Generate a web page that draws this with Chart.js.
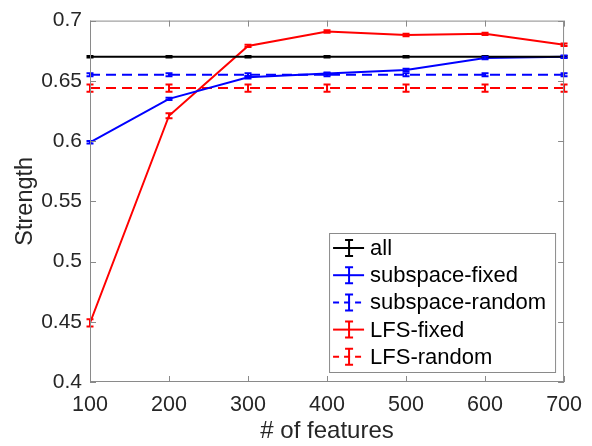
<!DOCTYPE html>
<html lang="en">
  <head>
    <meta charset="UTF-8" />
    <title>Strength vs features</title>
    <style>
      html, body { margin: 0; padding: 0; background: #fff; }
      #wrap { width: 592px; height: 446px; }
    </style>
  </head>
  <body>
    <div id="wrap"><canvas id="myChart" width="592" height="446"></canvas></div>
    <script src="https://cdn.jsdelivr.net/npm/chart.js"></script>
    <script>
      // number of features on the x axis
      const features = [100, 200, 300, 400, 500, 600, 700];

      const allStrength = [0.670, 0.670, 0.670, 0.670, 0.670, 0.670, 0.670];
      const allErr = [0.0006, 0.0006, 0.0006, 0.0006, 0.0006, 0.0006, 0.0006];

      const subFixed = [0.599, 0.635, 0.653, 0.656, 0.659, 0.669, 0.670];
      const subFixedErr = [0.001, 0.001, 0.001, 0.001, 0.001, 0.001, 0.001];

      const subRandom = [0.655, 0.655, 0.655, 0.655, 0.655, 0.655, 0.655];
      const subRandomErr = [0.0012, 0.0012, 0.0012, 0.0012, 0.0012, 0.0012, 0.0012];

      const lfsFixed = [0.449, 0.621, 0.679, 0.691, 0.688, 0.689, 0.680];
      const lfsFixedErr = [0.003, 0.002, 0.001, 0.001, 0.001, 0.001, 0.001];

      const lfsRandom = [0.644, 0.644, 0.644, 0.644, 0.644, 0.644, 0.644];
      const lfsRandomErr = [0.003, 0.003, 0.003, 0.003, 0.003, 0.003, 0.003];

      const yTicks = [0.4, 0.45, 0.5, 0.55, 0.6, 0.65, 0.7];

      const FONT = "Liberation Sans, Arial, Helvetica, sans-serif";
      const AXIS_COLOR = "#8a8a8a";
      const TEXT_COLOR = "#262626";
      const DASH = [10, 6];

      function serie(label, values, errs, color, dashed) {
        return {
          label: label,
          data: features.map((x, i) => ({ x: x, y: values[i] })),
          errors: errs,
          borderColor: color,
          backgroundColor: color,
          borderWidth: 2,
          borderDash: dashed ? DASH : [],
          pointRadius: 0,
          tension: 0,
          fill: false,
          dashed: dashed,
        };
      }

      const datasets = [
        serie("all", allStrength, allErr, "#000000", false),
        serie("subspace-fixed", subFixed, subFixedErr, "#0000ff", false),
        serie("subspace-random", subRandom, subRandomErr, "#0000ff", true),
        serie("LFS-fixed", lfsFixed, lfsFixedErr, "#ff0000", false),
        serie("LFS-random", lfsRandom, lfsRandomErr, "#ff0000", true),
      ];

      // error bars with caps
      const errorBars = {
        id: "errorBars",
        afterDatasetsDraw(chart) {
          const ctx = chart.ctx;
          const xs = chart.scales.x, ys = chart.scales.y;
          ctx.save();
          chart.data.datasets.forEach((ds) => {
            ctx.strokeStyle = ds.borderColor;
            ctx.lineWidth = 2;
            ctx.setLineDash([]);
            ds.data.forEach((p, i) => {
              const e = ds.errors[i];
              const px = xs.getPixelForValue(p.x);
              const top = ys.getPixelForValue(p.y + e);
              const bot = ys.getPixelForValue(p.y - e);
              ctx.beginPath();
              ctx.moveTo(px, top); ctx.lineTo(px, bot);
              ctx.moveTo(px - 3.5, top); ctx.lineTo(px + 3.5, top);
              ctx.moveTo(px - 3.5, bot); ctx.lineTo(px + 3.5, bot);
              ctx.stroke();
            });
          });
          ctx.restore();
        },
      };

      // box around the axes with inward ticks on all sides
      const boxTicks = {
        id: "boxTicks",
        afterDraw(chart) {
          const ctx = chart.ctx;
          const a = chart.chartArea;
          const xs = chart.scales.x, ys = chart.scales.y;
          ctx.save();
          ctx.strokeStyle = AXIS_COLOR;
          ctx.lineWidth = 1;
          ctx.strokeRect(a.left + 0.5, a.top + 0.5, a.right - a.left - 1, a.bottom - a.top - 1);
          ctx.beginPath();
          features.forEach((v) => {
            const px = Math.round(xs.getPixelForValue(v)) + 0.5;
            ctx.moveTo(px, a.bottom); ctx.lineTo(px, a.bottom - 6);
            ctx.moveTo(px, a.top); ctx.lineTo(px, a.top + 6);
          });
          yTicks.forEach((v) => {
            const py = Math.round(ys.getPixelForValue(v)) + 0.5;
            ctx.moveTo(a.left, py); ctx.lineTo(a.left + 6, py);
            ctx.moveTo(a.right, py); ctx.lineTo(a.right - 6, py);
          });
          ctx.stroke();
          ctx.restore();
        },
      };

      // legend drawn inside the plot, lower right
      const boxLegend = {
        id: "boxLegend",
        afterDraw(chart) {
          const ctx = chart.ctx;
          const a = chart.chartArea;
          const w = 226, h = 139;
          const x0 = a.right - 9 - w, y0 = a.bottom - 10 - h;
          ctx.save();
          ctx.fillStyle = "#fff";
          ctx.fillRect(x0, y0, w, h);
          ctx.strokeStyle = AXIS_COLOR;
          ctx.lineWidth = 1;
          ctx.strokeRect(x0 + 0.5, y0 + 0.5, w, h);
          ctx.font = "22px " + FONT;
          ctx.textBaseline = "middle";
          chart.data.datasets.forEach((ds, i) => {
            const cy = y0 + 15 + i * 27.2;
            ctx.strokeStyle = ds.borderColor;
            ctx.lineWidth = 2;
            ctx.setLineDash(ds.dashed ? [6, 5] : []);
            ctx.beginPath();
            ctx.moveTo(x0 + 4, cy); ctx.lineTo(x0 + 35, cy);
            ctx.stroke();
            ctx.setLineDash([]);
            const cx = x0 + 20;
            ctx.beginPath();
            ctx.moveTo(cx, cy - 8); ctx.lineTo(cx, cy + 8);
            ctx.moveTo(cx - 4, cy - 8); ctx.lineTo(cx + 4, cy - 8);
            ctx.moveTo(cx - 4, cy + 8); ctx.lineTo(cx + 4, cy + 8);
            ctx.stroke();
            ctx.fillStyle = "#000";
            ctx.fillText(ds.label, x0 + 41, cy + 1);
          });
          ctx.restore();
        },
      };

      const config = {
        type: "line",
        data: { datasets: datasets },
        options: {
          responsive: false,
          animation: false,
          layout: { padding: { left: 0, right: 27, top: 18, bottom: 0 } },
          plugins: { legend: { display: false }, tooltip: { enabled: false } },
          scales: {
            x: {
              type: "linear",
              min: 100,
              max: 700,
              grid: { display: false, drawTicks: false },
              border: { display: false },
              afterBuildTicks(scale) {
                scale.ticks = features.map((v) => ({ value: v }));
              },
              afterFit(scale) { scale.height = 64; },
              ticks: {
                color: TEXT_COLOR,
                padding: 10,
                maxRotation: 0,
                font: { family: FONT, size: 21.5 },
              },
              title: {
                display: true,
                text: "# of features",
                color: TEXT_COLOR,
                padding: { top: 0, bottom: 0 },
                font: { family: FONT, size: 24 },
              },
            },
            y: {
              type: "linear",
              min: 0.4,
              max: 0.7,
              grid: { display: false, drawTicks: false },
              border: { display: false },
              afterBuildTicks(scale) {
                scale.ticks = yTicks.map((v) => ({ value: v }));
              },
              afterFit(scale) { scale.width = 90; },
              ticks: {
                color: TEXT_COLOR,
                padding: 8,
                font: { family: FONT, size: 21 },
                callback: (v) => String(+v.toFixed(2)),
              },
              title: {
                display: true,
                text: "Strength",
                color: TEXT_COLOR,
                padding: { top: 11.5, bottom: 0 },
                font: { family: FONT, size: 23.5 },
              },
            },
          },
        },
        plugins: [errorBars, boxTicks, boxLegend],
      };

      new Chart(document.getElementById("myChart"), config);
    </script>
  </body>
</html>
